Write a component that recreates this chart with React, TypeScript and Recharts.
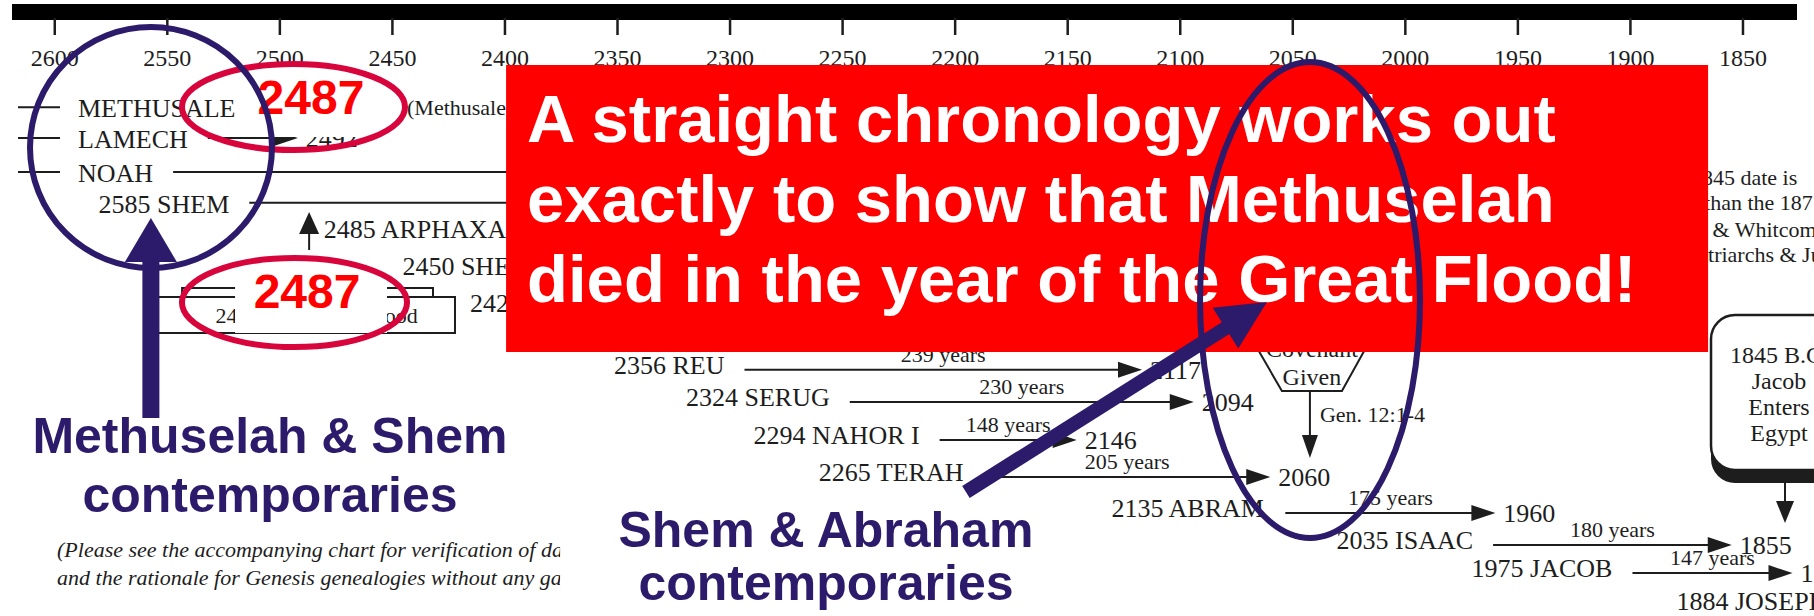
import React from 'react';
import { ComposedChart, XAxis, YAxis, ReferenceLine } from 'recharts';

// ---------------- data ----------------
const AXIS_TICKS = [2600, 2550, 2500, 2450, 2400, 2350, 2300, 2250, 2200, 2150, 2100, 2050, 2000, 1950, 1900, 1850];

const NAMES = ['METHUSALEH', 'LAMECH', 'NOAH', 'SHEM', 'ARPHAXAD', 'SHELAH', 'EBER', 'PELEG', 'REU', 'SERUG', 'NAHOR I', 'TERAH', 'ABRAM', 'ISAAC', 'JACOB', 'JOSEPH'];
const BIRTHS: (number | null)[] = [null, null, null, 2585, 2485, 2450, 2420, 2386, 2356, 2324, 2294, 2265, 2135, 2035, 1975, 1884];
const DEATHS: (number | null)[] = [2487, 2492, 2137, 1985, 2047, 2017, 1956, 2147, 2117, 2094, 2146, 2060, 1960, 1855, 1828, null];
const SPANS: (number | null)[] = [null, null, null, 600, 438, 433, 464, 239, 239, 230, 148, 205, 175, 180, 147, null];
const ROWS = [3.15, 4.17, 5.3, 6.32, 7.35, 8.58, 9.8, 10.86, 11.85, 12.91, 14.17, 15.4, 16.59, 17.65, 18.58, 19.67];

const FLOOD_YEAR = 2487;
const FLOOD_LABEL = '2487 Year of the Flood';
const METHUSELAH_NOTE = '(Methusaleh died in the Flood year)';
const BOX_LINES = ['A straight chronology works out', 'exactly to show that Methuselah', 'died in the year of the Great Flood!'];
const CALLOUT_TEXT = '2487';
const BLUE_TEXT_1 = ['Methuselah & Shem', 'contemporaries'];
const BLUE_TEXT_2 = ['Shem & Abraham', 'contemporaries'];
const COVENANT_LINES = ['Covenant', 'Given'];
const COVENANT_REF = 'Gen. 12:1-4';
const EGYPT_LINES = ['1845 B.C.', 'Jacob', 'Enters', 'Egypt'];
const SIDE_NOTES = ['1845 date is', 'than the 1877', 'Morris & Whitcomb', 'Patriarchs & Judges'];
const FOOT_NOTES = ['(Please see the accompanying chart for verification of dates', 'and the rationale for Genesis genealogies without any gaps.)'];

// ---------------- layout (data space anchors) ----------------
const YEAR_MIN = 1826;
const YEAR_MAX = 2619;
const ROW_MAX = 20;

const RED_BOX: [number, number][] = [[2399.5, 1.755], [1865.5, 11.258]];
const PATCHES: [number, number][][] = [
  [[2519.9, 2.086], [2448.9, 4.139]],
  [[2519.9, 8.444], [2452.4, 10.629]],
];
const RED_ELLIPSES: [number, number][][] = [
  [[2543.5, 1.722], [2444.4, 4.57]],
  [[2543.5, 8.146], [2443.5, 11.093]],
];
const BLUE_ELLIPSES: [number, number][][] = [
  [[2611.0, 0.497], [2503.5, 8.477]],
  [[2091.2, 1.656], [1993.5, 17.417]],
];
const BLUE_ARROWS: { from: [number, number]; to: [number, number]; w: number; hl: number; hw: number }[] = [
  { from: [2557.3, 13.444], to: [2557.3, 6.821], w: 17, hl: 44, hw: 26 },
  { from: [2195.2, 15.894], to: [2061.5, 9.603], w: 14, hl: 49, hw: 24 },
];
const BLUE_TEXT_POS: [number, number][] = [[2504.4, 14.603], [2257.4, 17.715]];
const COVER_BOX: [number, number][] = [[2375.5, 15.894], [2162.3, 20]];
const FLOOD_BOX: [number, number][] = [[2554.1, 9.437], [2422.2, 10.629]];
const FLOOD_ARROW: [number, number][] = [[FLOOD_YEAR, 7.881], [FLOOD_YEAR, 6.623]];
const NOTE_POS: [number, number] = [2443.5, 3.15];
const COVENANT_POS: [number, number] = [2041.5, 12.55];
const EGYPT_POS: [number, number] = [1864.2, 10.033];
const SIDE_POS: [number, number][] = [[1873.1, 5.728], [1867.3, 6.556], [1892.6, 7.45], [1875.3, 8.278]];
const FOOT_POS: [number, number][] = [[2599.0, 18.046], [2599.0, 18.974]];

// ---------------- styles ----------------
const SERIF = '"Liberation Serif", "Times New Roman", serif';
const SANS = '"Liberation Sans", Arial, sans-serif';
const INK = '#1d1d1d';
const NAVY = '#2c1a6b';
const CRIMSON = '#d8043c';
const RED = '#ff0000';
const AXIS_Y = 12;

let ctx: CanvasRenderingContext2D | null = null;
function measure(text: string, size: number, family: string): number {
  try {
    if (!ctx) ctx = document.createElement('canvas').getContext('2d');
    if (ctx) {
      ctx.font = `${size}px ${family}`;
      return ctx.measureText(text).width;
    }
  } catch (e) {
    /* ignore */
  }
  return text.length * size * 0.6;
}

const head = (x1: number, y1: number, x2: number, y2: number, len: number, half: number) => {
  const d = Math.hypot(x2 - x1, y2 - y1) || 1;
  const ux = (x2 - x1) / d;
  const uy = (y2 - y1) / d;
  const bx = x2 - ux * len;
  const by = y2 - uy * len;
  return `${x2},${y2} ${bx - uy * half},${by + ux * half} ${bx + uy * half},${by - ux * half}`;
};

const box = (p: any) => {
  const x1 = +p.x1, x2 = +p.x2, y1 = +p.y1, y2 = +p.y2;
  return { x: Math.min(x1, x2), y: Math.min(y1, y2), w: Math.abs(x2 - x1), h: Math.abs(y2 - y1) };
};

const AxisTick = (p: any) => {
  const x = +p.x;
  return (
    <g>
      <line x1={x} x2={x} y1={AXIS_Y + 6} y2={AXIS_Y + 23} stroke={INK} strokeWidth={2.5} />
      <text x={x} y={AXIS_Y + 54} textAnchor="middle" fontFamily={SERIF} fontSize={24} fill={INK}>
        {p.payload.value}
      </text>
    </g>
  );
};

// lifeline of one patriarch
const lifeShape = (i: number) => (p: any) => {
  const x1 = +p.x1, y = +p.y1, x2 = +p.x2;
  const pre = BIRTHS[i] == null;
  const label = pre ? NAMES[i] : `${BIRTHS[i]} ${NAMES[i]}`;
  const nameX = pre ? x1 + 66 : x1 + 10;
  const nameY = i < 4 ? y + 10 : y + 4;
  const nameW = measure(label, 26, SERIF);
  const start = nameX + nameW + 20;
  const els: React.ReactNode[] = [];
  if (pre) els.push(<line key="d" x1={x1 + 6} x2={x1 + 48} y1={y} y2={y} stroke={INK} strokeWidth={2} />);
  els.push(
    <text key="n" x={nameX} y={nameY} fontFamily={SERIF} fontSize={26} fill={INK}>
      {label}
    </text>
  );
  if (DEATHS[i] != null && x2 > start) {
    els.push(<line key="l" x1={start} x2={x2 - 18} y1={y} y2={y} stroke={INK} strokeWidth={2} />);
    els.push(<polygon key="h" points={head(start, y, x2, y, 24, 8)} fill={INK} />);
    els.push(
      <text key="dl" x={x2 + 8} y={y + 9} fontFamily={SERIF} fontSize={26} fill={INK}>
        {DEATHS[i]}
      </text>
    );
    if (SPANS[i] != null)
      els.push(
        <text key="s" x={(start + x2) / 2} y={y - 8} textAnchor="middle" fontFamily={SERIF} fontSize={22} fill={INK}>
          {`${SPANS[i]} years`}
        </text>
      );
  }
  return <g>{els}</g>;
};

const floodBoxShape = (p: any) => {
  const b = box(p);
  return (
    <g>
      <rect x={b.x + 24} y={b.y - 9} width={b.w - 46} height={9} fill="#fff" stroke={INK} strokeWidth={2} />
      <rect x={b.x} y={b.y} width={b.w} height={b.h} fill="#fff" stroke={INK} strokeWidth={2} />
      <text x={b.x + b.w / 2 + 10} y={b.y + b.h - 10} textAnchor="middle" fontFamily={SERIF} fontSize={22} fill={INK}>
        {FLOOD_LABEL}
      </text>
    </g>
  );
};

const floodArrowShape = (p: any) => {
  const x1 = +p.x1, y1 = +p.y1, x2 = +p.x2, y2 = +p.y2;
  return (
    <g>
      <line x1={x1} y1={y1} x2={x2} y2={y2 + 18} stroke={INK} strokeWidth={2} />
      <polygon points={head(x1, y1, x2, y2, 22, 10)} fill={INK} />
    </g>
  );
};

const noteShape = (p: any) => (
  <text x={+p.x1} y={+p.y1 + 8} fontFamily={SERIF} fontSize={22} fill={INK}>
    {METHUSELAH_NOTE}
  </text>
);

const covenantShape = (p: any) => {
  const x = +p.x1, y = +p.y1;
  const pts = [[-30, 0], [30, 0], [55, -45], [30, -92], [-30, -92], [-56, -45]]
    .map(([dx, dy]) => `${x + dx},${y + dy}`)
    .join(' ');
  return (
    <g>
      <polygon points={pts} fill="#fff" stroke={INK} strokeWidth={2} />
      {COVENANT_LINES.map((t, k) => (
        <text key={k} x={x} y={y - 34 + k * 28} textAnchor="middle" fontFamily={SERIF} fontSize={24} fill={INK}>
          {t}
        </text>
      ))}
      <line x1={x - 2} x2={x - 2} y1={y} y2={y + 50} stroke={INK} strokeWidth={2} />
      <polygon points={head(x - 2, y, x - 2, y + 67, 23, 8)} fill={INK} />
      <text x={x + 8} y={y + 31} fontFamily={SERIF} fontSize={22} fill={INK}>
        {COVENANT_REF}
      </text>
    </g>
  );
};

const egyptShape = (p: any) => {
  const x = +p.x1, y = +p.y1;
  return (
    <g>
      <rect x={x} y={y + 10} width={136} height={158} rx={24} fill={INK} />
      <rect x={x} y={y} width={136} height={155} rx={24} fill="#fff" stroke={INK} strokeWidth={2.5} />
      {EGYPT_LINES.map((t, k) => (
        <text key={k} x={x + 68} y={y + 48 + k * 26} textAnchor="middle" fontFamily={SERIF} fontSize={24} fill={INK}>
          {t}
        </text>
      ))}
      <line x1={x + 74} x2={x + 74} y1={y + 168} y2={y + 190} stroke={INK} strokeWidth={2} />
      <polygon points={head(x + 74, y + 168, x + 74, y + 208, 22, 9)} fill={INK} />
    </g>
  );
};

const textShape = (text: string, size: number, italic = false) => (p: any) => (
  <text x={+p.x1} y={+p.y1} fontFamily={SERIF} fontSize={size} fontStyle={italic ? 'italic' : 'normal'} fill={INK}>
    {text}
  </text>
);

const coverShape = (p: any) => {
  const b = box(p);
  return <rect x={b.x} y={b.y} width={b.w} height={b.h} fill="#fff" />;
};

const redBoxShape = (p: any) => {
  const b = box(p);
  return (
    <g>
      <rect x={b.x} y={b.y} width={b.w} height={b.h} fill={RED} />
      {BOX_LINES.map((t, k) => (
        <text key={k} x={b.x + 21} y={b.y + 77 + k * 80} fontFamily={SANS} fontWeight={700} fontSize={67} fill="#fff">
          {t}
        </text>
      ))}
    </g>
  );
};

const patchShape = (p: any) => {
  const b = box(p);
  return (
    <g>
      <rect x={b.x} y={b.y} width={b.w} height={b.h} fill="#fff" />
      <text x={b.x + b.w / 2 - 4} y={b.y + b.h / 2 + 8} textAnchor="middle" fontFamily={SANS} fontWeight={700} fontSize={48} fill={RED}>
        {CALLOUT_TEXT}
      </text>
    </g>
  );
};

const ellipseShape = (color: string, sw: number) => (p: any) => {
  const b = box(p);
  return <ellipse cx={b.x + b.w / 2} cy={b.y + b.h / 2} rx={b.w / 2} ry={b.h / 2} fill="none" stroke={color} strokeWidth={sw} />;
};

const blueArrowShape = (w: number, hl: number, hw: number) => (p: any) => {
  const x1 = +p.x1, y1 = +p.y1, x2 = +p.x2, y2 = +p.y2;
  const d = Math.hypot(x2 - x1, y2 - y1) || 1;
  const bx = x2 - ((x2 - x1) / d) * (hl - 2);
  const by = y2 - ((y2 - y1) / d) * (hl - 2);
  return (
    <g>
      <line x1={x1} y1={y1} x2={bx} y2={by} stroke={NAVY} strokeWidth={w} />
      <polygon points={head(x1, y1, x2, y2, hl, hw)} fill={NAVY} />
    </g>
  );
};

const blueTextShape = (lines: string[], gap: number) => (p: any) => (
  <g>
    {lines.map((t, k) => (
      <text key={k} x={+p.x1} y={+p.y1 + k * gap} textAnchor="middle" fontFamily={SANS} fontWeight={700} fontSize={50} fill={NAVY}>
        {t}
      </text>
    ))}
  </g>
);

const seg = (key: string, a: [number, number], b: [number, number], shape: any, z?: number) => (
  <ReferenceLine
    key={key}
    segment={[{ x: a[0], y: a[1] }, { x: b[0], y: b[1] }]}
    ifOverflow="visible"
    shape={shape}
    {...(z != null ? { zIndex: z } : {})}
  />
);

export default function App() {
  const scan: React.ReactNode[] = [];
  NAMES.forEach((_, i) => {
    const from: [number, number] = [BIRTHS[i] ?? YEAR_MAX, ROWS[i]];
    const to: [number, number] = [DEATHS[i] ?? (BIRTHS[i] as number), ROWS[i]];
    scan.push(seg(`life-${i}`, from, to, lifeShape(i), 800));
  });
  scan.push(seg('flood-box', FLOOD_BOX[0], FLOOD_BOX[1], floodBoxShape, 800));
  scan.push(seg('flood-arrow', FLOOD_ARROW[0], FLOOD_ARROW[1], floodArrowShape, 800));
  scan.push(seg('note', NOTE_POS, NOTE_POS, noteShape, 800));
  scan.push(seg('covenant', COVENANT_POS, COVENANT_POS, covenantShape, 800));
  scan.push(seg('egypt', EGYPT_POS, EGYPT_POS, egyptShape, 800));
  SIDE_NOTES.forEach((t, k) => scan.push(seg(`side-${k}`, SIDE_POS[k], SIDE_POS[k], textShape(t, 22), 800)));
  FOOT_NOTES.forEach((t, k) => scan.push(seg(`foot-${k}`, FOOT_POS[k], FOOT_POS[k], textShape(t, 22, true), 800)));

  const overlay: React.ReactNode[] = [
    seg('cover', COVER_BOX[0], COVER_BOX[1], coverShape, 3000),
    seg('redbox', RED_BOX[0], RED_BOX[1], redBoxShape, 3000),
    ...PATCHES.map((p, k) => seg(`patch-${k}`, p[0], p[1], patchShape, 3000)),
    ...RED_ELLIPSES.map((p, k) => seg(`rell-${k}`, p[0], p[1], ellipseShape(CRIMSON, 6), 3000)),
    ...BLUE_ELLIPSES.map((p, k) => seg(`bell-${k}`, p[0], p[1], ellipseShape(NAVY, 6), 3000)),
    ...BLUE_ARROWS.map((a, k) => seg(`barrow-${k}`, a.from, a.to, blueArrowShape(a.w, a.hl, a.hw), 3000)),
    seg('btext-1', BLUE_TEXT_POS[0], BLUE_TEXT_POS[0], blueTextShape(BLUE_TEXT_1, 59), 3000),
    seg('btext-2', BLUE_TEXT_POS[1], BLUE_TEXT_POS[1], blueTextShape(BLUE_TEXT_2, 53), 3000),
  ];

  return (
    <div style={{ position: 'absolute', left: 0, top: 0, width: 1814, height: 616, background: '#fff' }}>
      <ComposedChart width={1814} height={616} margin={{ top: 0, right: 17, bottom: 0, left: 12 }}>
        <XAxis
          type="number"
          dataKey="year"
          orientation="top"
          domain={[YEAR_MIN, YEAR_MAX]}
          reversed
          allowDataOverflow
          ticks={AXIS_TICKS}
          interval={0}
          height={AXIS_Y}
          axisLine={{ stroke: '#000', strokeWidth: 16 }}
          tickLine={false}
          tick={<AxisTick />}
        />
        <YAxis type="number" domain={[0, ROW_MAX]} reversed hide allowDataOverflow />
        {scan}
        {overlay}
      </ComposedChart>
    </div>
  );
}
